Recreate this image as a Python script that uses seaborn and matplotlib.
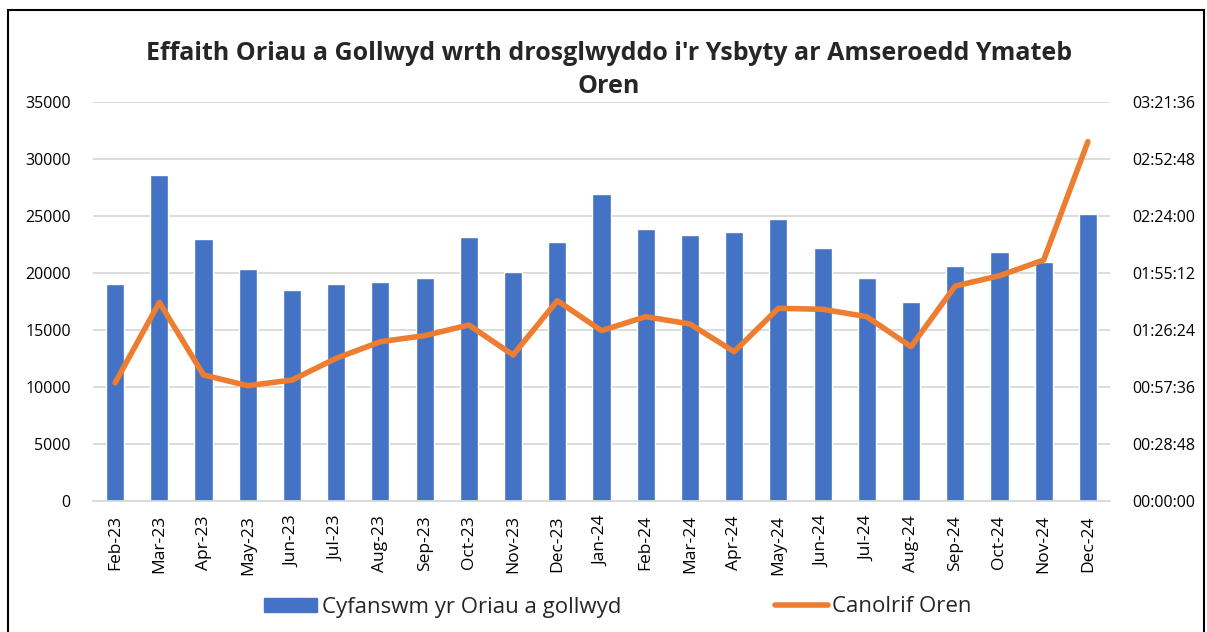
import numpy as np
import pandas as pd
import matplotlib
matplotlib.use("Agg")
import matplotlib.pyplot as plt
from matplotlib.ticker import FuncFormatter, MultipleLocator
from matplotlib.lines import Line2D
from matplotlib.patches import Patch, Rectangle
import seaborn as sns

months = ["Feb-23", "Mar-23", "Apr-23", "May-23", "Jun-23", "Jul-23", "Aug-23",
          "Sep-23", "Oct-23", "Nov-23", "Dec-23", "Jan-24", "Feb-24", "Mar-24",
          "Apr-24", "May-24", "Jun-24", "Jul-24", "Aug-24", "Sep-24", "Oct-24",
          "Nov-24", "Dec-24"]
hours_lost = [19100, 28600, 23030, 20350, 18540, 19090, 19210, 19560, 23190,
              20090, 22750, 26930, 23860, 23390, 23600, 24740, 22190, 19560,
              17510, 20670, 21840, 20970, 25180]
# median response time in seconds
median_secs = [3590, 6033, 3829, 3505, 3677, 4335, 4839, 5021, 5345, 4435,
               6082, 5173, 5597, 5375, 4536, 5851, 5821, 5597, 4687, 6527,
               6839, 7315, 10902]

title = "Effaith Oriau a Gollwyd wrth drosglwyddo i'r Ysbyty ar Amseroedd Ymateb\nOren"
bar_label = "Cyfanswm yr Oriau a gollwyd"
line_label = "Canolrif Oren"

BLUE = "#4472C4"
ORANGE = "#ED7D31"
GRID = "#D9D9D9"

sns.set_theme(style="white")
plt.rcParams["font.family"] = ["Open Sans", "DejaVu Sans"]

W, H = 1207, 632
fig = plt.figure(figsize=(W / 100, H / 100), dpi=100)
ax = fig.add_axes([93 / W, 1 - 501.3 / H, (1110 - 93) / W, (501.3 - 102.3) / H])

df = pd.DataFrame({"month": months, "hours": hours_lost, "secs": median_secs})
sns.barplot(data=df, x="month", y="hours", color=BLUE, width=0.41,
            saturation=1, ax=ax, zorder=2)
ax.set_xlim(-0.5, len(months) - 0.5)
ax.set_ylim(0, 35000)
ax.yaxis.set_major_locator(MultipleLocator(5000))
ax.grid(axis="y", color=GRID, linewidth=1.3, zorder=0)
ax.set_axisbelow(True)
for s in ["top", "left", "right"]:
    ax.spines[s].set_visible(False)
ax.spines["bottom"].set_color(GRID)
ax.spines["bottom"].set_linewidth(1.3)
ax.set_xlabel("")
ax.set_ylabel("")
ax.tick_params(axis="x", labelrotation=90, labelsize=12.5, colors="black", length=0, pad=10)
ax.tick_params(axis="y", labelsize=11.5, colors="black", length=0, pad=16)

ax2 = ax.twinx()
sns.lineplot(x=np.arange(len(months)), y=df["secs"], color=ORANGE, linewidth=4,
             sort=False, ax=ax2, solid_capstyle="round", solid_joinstyle="round")
ax2.set_ylim(0, 12096)
ax2.yaxis.set_major_locator(MultipleLocator(1728))

def hms(v, pos):
    v = int(round(v))
    return f"{v // 3600:02d}:{(v % 3600) // 60:02d}:{v % 60:02d}"

ax2.yaxis.set_major_formatter(FuncFormatter(hms))
ax2.tick_params(axis="y", labelsize=11.5, colors="black", length=0, pad=16)
ax2.set_ylabel("")
for s in ax2.spines.values():
    s.set_visible(False)
ax2.grid(False)

fig.text(609 / W, 1 - 70 / H, title, ha="center", va="center",
         fontsize=18, fontweight="bold", linespacing=1.45)

handles = [Patch(facecolor=BLUE, edgecolor=BLUE),
           Line2D([0], [0], color=ORANGE, linewidth=4)]
fig.legend(handles, [bar_label, line_label], loc="center",
           bbox_to_anchor=(618 / W, 1 - 607 / H), ncol=2, frameon=False,
           fontsize=16, handlelength=2.4, handleheight=0.6, handletextpad=0.2,
           columnspacing=6.9)

fig.patches.append(Rectangle((8 / W, -0.01), (1204 - 8) / W, 1.01 - 10 / H,
                             transform=fig.transFigure, fill=False,
                             edgecolor="black", linewidth=1.5))

fig.savefig("out.png", dpi=100, facecolor="white")
